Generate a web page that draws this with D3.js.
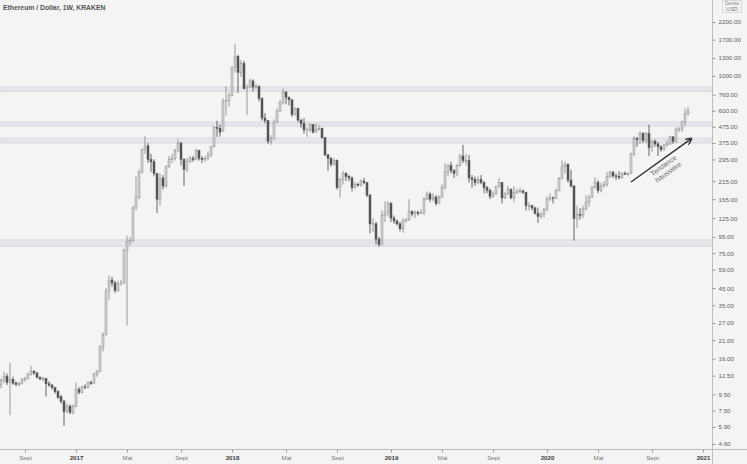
<!DOCTYPE html>
<html><head><meta charset="utf-8">
<script src="https://cdn.jsdelivr.net/npm/d3@7"></script>
<style>
body{margin:0;background:#f4f4f4}
svg{display:block;font-family:"Liberation Sans",Arial,sans-serif}
</style>
</head><body>
<svg id="chart" width="747" height="464"></svg>
<script>
// ---------- DATA ----------
const title = "Ethereum / Dollar, 1W, KRAKEN";
const currencyLabel = ["Devise", "USD"];
const firstWeek = "2016-07-11"; // first weekly bar (Monday)

// weekly [open, high, low, close]
const ohlc2016 = [
  [11.0,12.0,10.4,11.6],[11.6,13.2,11.2,12.4],[12.4,12.9,10.9,11.3],[11.3,15.0,7.0,11.8],
  [11.8,12.3,10.9,11.2],[11.2,11.5,10.7,11.0],[11.0,11.4,10.7,11.2],[11.2,12.1,11.0,11.8],
  [11.8,12.3,11.4,12.0],[12.0,13.0,11.8,12.7],[12.7,14.4,12.5,13.3],[13.3,13.6,12.6,13.0],
  [13.0,13.2,12.0,12.2],[12.2,12.4,11.7,11.9],[11.9,12.3,11.5,12.0],[12.0,12.1,9.2,11.1],
  [11.1,11.5,10.6,10.9],[10.9,11.1,10.2,10.5],[10.5,10.6,9.6,9.9],[9.9,10.1,8.9,9.1],
  [9.2,9.4,8.3,8.6],[8.6,8.8,6.0,7.4],[7.4,8.3,7.2,8.0],[8.0,8.2,7.1,7.3],[7.3,8.2,7.1,8.0]
];
const ohlc2017 = [
  [8.0,11.3,7.9,10.2],[10.2,10.6,9.5,9.8],[9.8,10.8,9.6,10.6],[10.6,11.0,10.3,10.5],
  [10.5,11.5,10.4,11.3],[11.3,11.6,10.9,11.2],[11.2,13.0,11.1,12.8],[12.8,13.6,12.3,13.3],
  [13.3,19.5,13.1,19.0],[19.0,23.5,17.8,22.8],[22.8,45.0,22.5,43.0],[43.0,54.0,38.0,50.5],
  [50.5,53.0,46.0,48.5],[48.5,50.0,42.0,43.5],[43.5,50.0,42.5,48.0],[48.0,50.5,46.5,48.5],
  [48.5,80.0,47.5,78.0],[78.0,97.0,26.0,89.0],[89.0,95.0,84.0,90.0],[90.0,150,88.0,145],
  [145,230,140,170],[170,255,165,245],[245,345,240,340],[340,415,320,360],
  [360,375,280,295],[295,320,245,285],[285,295,230,240],[240,242,135,165],
  [165,240,150,225],[225,235,190,200],[200,270,195,265],[265,310,260,295],
  [295,320,280,300],[300,345,290,335],[335,395,330,375],[375,380,270,295],
  [295,300,200,255],[255,300,245,285],[285,310,280,300],[300,310,285,295],
  [295,345,290,335],[335,340,290,300],[300,310,280,295],[295,310,285,300],
  [300,330,290,315],[315,360,305,355],[355,480,350,470],[470,520,410,465],
  [465,490,410,440],[450,720,440,690],[690,860,560,700],[700,780,640,750]
];
const ohlc2018 = [
  [750,1150,740,1130],[1130,1600,1050,1330],[1330,1360,780,1050],[1050,1260,980,1200],
  [1200,1250,820,830],[830,880,565,850],[850,960,840,930],[930,950,800,850],
  [850,890,830,860],[860,870,690,720],[720,730,520,540],[540,580,500,520],
  [520,525,370,385],[385,420,365,400],[400,530,395,510],[510,620,505,600],
  [600,700,590,680],[680,830,660,790],[790,800,660,730],[730,740,650,705],
  [705,710,550,570],[570,630,560,620],[620,630,510,525],[525,530,470,500],
  [500,540,430,455],[455,470,410,455],[455,500,440,490],[490,495,430,440],
  [440,500,435,460],[460,490,450,465],[465,470,400,405],[405,410,310,315],
  [315,320,250,300],[300,305,265,275],[275,300,270,290],[290,295,190,195],
  [195,225,168,220],[220,250,205,240],[240,245,215,230],[230,235,215,225],
  [225,230,185,195],[195,212,192,205],[205,210,198,203],[203,220,198,215],
  [215,225,205,210],[210,212,170,175],[175,178,100,115],[115,125,102,115],
  [115,118,85,92],[92,95,82,85],[85,140,84,130],[130,160,118,135],[135,160,128,155]
];
const ohlc2019 = [
  [155,158,118,125],[125,130,115,120],[120,122,112,115],[115,118,103,107],
  [107,125,101,120],[120,125,117,122],[122,165,120,138],[138,140,128,133],
  [133,140,125,136],[136,140,130,134],[134,142,133,136],[136,170,131,165],
  [165,185,162,178],[178,182,158,165],[165,180,160,170],[170,175,150,155],
  [155,175,154,170],[170,205,168,196],[196,280,190,245],[245,275,230,270],
  [270,285,240,250],[250,255,225,240],[240,275,230,270],[270,320,265,310],
  [310,365,280,290],[290,320,270,290],[290,315,210,225],[225,235,195,220],
  [220,230,200,210],[210,230,205,220],[220,235,205,210],[210,215,180,195],
  [195,200,180,188],[188,192,165,172],[172,185,168,180],[180,200,175,198],
  [198,225,195,210],[210,212,155,168],[168,182,165,180],[180,200,175,190],
  [190,193,165,168],[168,200,158,182],[182,192,178,186],[186,195,180,186],
  [186,190,178,182],[182,184,140,150],[150,158,140,150],[150,152,140,145],
  [145,148,132,134],[134,146,117,128],[128,136,124,132],[132,145,126,142]
];
const ohlc2020 = [
  [142,172,138,165],[165,180,160,168],[168,172,155,167],[167,192,165,188],
  [188,228,185,223],[223,290,220,265],[265,285,240,275],[275,278,210,218],
  [218,253,195,200],[200,202,90,124],[124,150,108,132],[132,145,122,131],
  [131,150,125,143],[143,175,140,158],[158,175,148,170],[170,200,168,197],
  [197,227,192,210],[210,218,180,187],[187,210,182,200],[200,215,195,205],
  [205,245,198,230],[230,250,225,245],[245,250,225,232],[232,240,218,230],
  [230,248,220,226],[226,245,222,240],[240,248,235,238],[238,243,230,240],
  [240,325,238,320],[320,415,310,400],[400,410,355,395],[395,445,370,430],
  [430,440,375,390],[390,440,375,430],[430,490,310,350],[350,390,330,385],
  [385,395,355,370],[370,380,310,355],[355,362,330,340],[340,370,335,365],
  [365,390,355,370],[370,418,365,410],[410,415,370,385],[385,470,375,460],
  [460,475,440,460],[460,520,440,510],[510,620,480,575],[575,635,560,600]
];

const priceTicks = [2200,1700,1300,1000,760,600,475,375,295,215,165,125,95,75,59,45,35,27,21,16,12.5,9.5,7.5,5.9,4.6];
const timeTickDates = ["2016-09-05","2017-01-02","2017-05-01","2017-09-04","2018-01-01","2018-05-07","2018-09-03",
                       "2019-01-07","2019-05-06","2019-09-02","2020-01-06","2020-05-04","2020-09-07","2021-01-04"];
const timeTickLabels = ["Sept","2017","Mai","Sept","2018","Mai","Sept","2019","Mai","Sept","2020","Mai","Sept","2021"];

// horizontal zones [low, high] in USD
const zones = [[795,850],[480,510],[375,403],[83,91]];
// trend arrow [date, price]
const trendArrow = [["2020-07-20",212],["2020-12-07",398]];
const trendText = ["Tendance","haussière"];
const trendTextAnchor = ["2020-10-07",262];

// ---------- CHART ----------
const W = 747, H = 464, plotRight = 712, plotBottom = 449;
const svg = d3.select("#chart");
const parse = d3.utcParse("%Y-%m-%d");

const allBars = [].concat(ohlc2016, ohlc2017, ohlc2018, ohlc2019, ohlc2020);
const start = parse(firstWeek);
const weeks = d3.utcMonday.range(start, d3.utcMonday.offset(start, allBars.length));
const bars = allBars.map((v, i) => ({date: weeks[i], o: v[0], h: v[1], l: v[2], c: v[3]}));

const x = d3.scaleUtc().domain([parse("2017-01-02"), parse("2021-01-04")]).range([76, 703]);
const y = d3.scaleLog().domain([4.6, 2200]).range([444, 22]);

svg.append("rect").attr("width", W).attr("height", H).attr("fill", "#f4f4f4");

svg.append("defs").append("clipPath").attr("id", "plot")
  .append("rect").attr("x", 0).attr("y", 0).attr("width", plotRight).attr("height", plotBottom);
svg.select("defs").append("marker").attr("id", "arrowhead")
  .attr("viewBox", "0 0 10 10").attr("refX", 8).attr("refY", 5)
  .attr("markerWidth", 5).attr("markerHeight", 5).attr("orient", "auto")
  .append("path").attr("d", "M0,0 L10,5 L0,10").attr("fill", "none")
  .attr("stroke", "#2e2e2e").attr("stroke-width", 2);

const plot = svg.append("g").attr("clip-path", "url(#plot)");

// zones
plot.selectAll("rect.zone").data(zones).join("rect").attr("class", "zone")
  .attr("x", 0).attr("width", plotRight)
  .attr("y", d => y(d[1])).attr("height", d => y(d[0]) - y(d[1]))
  .attr("fill", "#e4e6ea").attr("stroke", "#d3d6dc").attr("stroke-width", 0.8);

// candles
const bw = 2;
const cg = plot.append("g");
cg.selectAll("line").data(bars).join("line")
  .attr("x1", d => x(d.date)).attr("x2", d => x(d.date))
  .attr("y1", d => y(d.h)).attr("y2", d => y(d.l))
  .attr("stroke", d => d.c >= d.o ? "#8e8e8e" : "#525252").attr("stroke-width", 0.9);
cg.selectAll("rect").data(bars).join("rect")
  .attr("x", d => x(d.date) - bw / 2).attr("width", bw)
  .attr("y", d => y(Math.max(d.o, d.c)))
  .attr("height", d => Math.max(0.8, Math.abs(y(d.o) - y(d.c))))
  .attr("fill", d => d.c >= d.o ? "#d2d2d2" : "#565656")
  .attr("stroke", d => d.c >= d.o ? "#8e8e8e" : "#525252").attr("stroke-width", 0.5);

// trend arrow
plot.append("line")
  .attr("x1", x(parse(trendArrow[0][0]))).attr("y1", y(trendArrow[0][1]))
  .attr("x2", x(parse(trendArrow[1][0]))).attr("y2", y(trendArrow[1][1]))
  .attr("stroke", "#2e2e2e").attr("stroke-width", 1.4).attr("marker-end", "url(#arrowhead)");
const ang = Math.atan2(y(trendArrow[1][1]) - y(trendArrow[0][1]),
                       x(parse(trendArrow[1][0])) - x(parse(trendArrow[0][0]))) * 180 / Math.PI;
const tt = svg.append("text")
  .attr("transform", `translate(${x(parse(trendTextAnchor[0]))},${y(trendTextAnchor[1])}) rotate(${ang})`)
  .attr("text-anchor", "middle").attr("font-size", 7).attr("fill", "#6a6a6a");
tt.selectAll("tspan").data(trendText).join("tspan")
  .attr("x", 0).attr("dy", (d, i) => i === 0 ? 0 : 8).text(d => d);

// axes lines
svg.append("line").attr("x1", plotRight + 0.5).attr("x2", plotRight + 0.5).attr("y1", 0).attr("y2", H)
  .attr("stroke", "#bdbdbd").attr("stroke-width", 1);
svg.append("line").attr("x1", 0).attr("x2", W).attr("y1", plotBottom + 0.5).attr("y2", plotBottom + 0.5)
  .attr("stroke", "#bdbdbd").attr("stroke-width", 1);

// right price axis
const ya = svg.append("g").attr("transform", `translate(${plotRight + 0.5},0)`)
  .call(d3.axisRight(y).tickValues(priceTicks).tickFormat(d3.format(".2f")).tickSize(3).tickPadding(3));
ya.select(".domain").remove();
ya.selectAll("line").attr("stroke", "#9a9a9a");
ya.selectAll("text").attr("font-size", 6.2).attr("fill", "#5e5e5e").attr("font-family", "Liberation Sans, Arial, sans-serif");

// bottom time axis
const xa = svg.append("g").attr("transform", `translate(0,${plotBottom + 0.5})`)
  .call(d3.axisBottom(x).tickValues(timeTickDates.map(parse)).tickFormat((d, i) => timeTickLabels[i]).tickSize(3).tickPadding(3));
xa.select(".domain").remove();
xa.selectAll("line").attr("stroke", "#9a9a9a");
xa.selectAll("text").attr("font-size", 6.2).attr("font-family", "Liberation Sans, Arial, sans-serif")
  .attr("fill", (d, i) => /^\d/.test(timeTickLabels[i]) ? "#3c3c3c" : "#777")
  .attr("font-weight", (d, i) => /^\d/.test(timeTickLabels[i]) ? "bold" : "normal");

// title
svg.append("text").attr("x", 3).attr("y", 9.5).attr("font-size", 6.8).attr("fill", "#555")
  .attr("font-weight", "bold").text(title);

// currency box
svg.append("rect").attr("x", 722.5).attr("y", 0.5).attr("width", 19).attr("height", 12)
  .attr("fill", "#f4f4f4").attr("stroke", "#d4d4d4").attr("stroke-width", 0.8);
svg.append("text").attr("x", 732).attr("y", 5).attr("text-anchor", "middle").attr("font-size", 4.6)
  .attr("fill", "#888").text(currencyLabel[0]);
svg.append("text").attr("x", 732).attr("y", 10.6).attr("text-anchor", "middle").attr("font-size", 5.6)
  .attr("fill", "#777").text(currencyLabel[1]);
</script>
</body></html>
